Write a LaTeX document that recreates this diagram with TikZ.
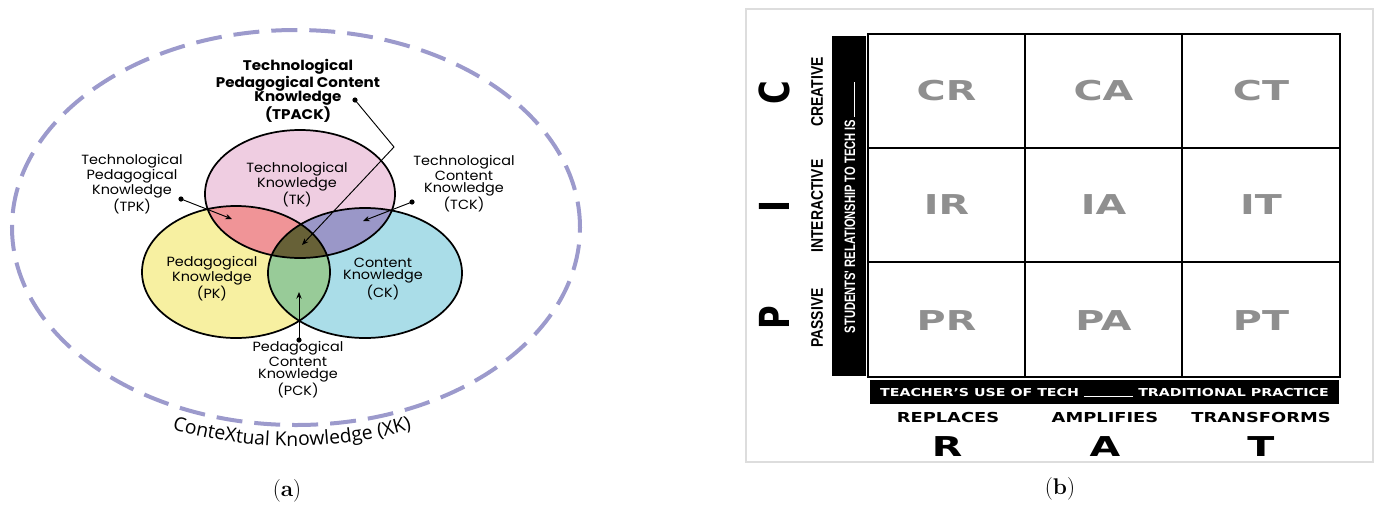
\documentclass[tikz,border=0pt]{standalone}
\usepackage{fontspec}
\usetikzlibrary{arrows.meta,decorations.text}
\newfontfamily\venn{Poppins}[FakeStretch=1.08]
\newfontfamily\xkfont{Open Sans}
\newfontfamily\wideA{DejaVu Sans}[FakeStretch=1.45]
\newfontfamily\wideB{DejaVu Sans}[FakeStretch=1.3]
\newfontfamily\bigL{DejaVu Sans}[FakeStretch=0.78]
\newfontfamily\narrowB{Liberation Sans}[FakeStretch=0.83]
\newfontfamily\narrowS{Liberation Sans}[FakeStretch=0.74]
\definecolor{tkc}{HTML}{EFCDE1}
\definecolor{pkc}{HTML}{F7F0A1}
\definecolor{ckc}{HTML}{AADDE8}
\definecolor{tpc}{HTML}{F09497}
\definecolor{tcc}{HTML}{9A97C8}
\definecolor{pcc}{HTML}{98CB98}
\definecolor{allc}{HTML}{676137}
\definecolor{xkc}{HTML}{9C9ACC}
\definecolor{cellgray}{HTML}{8F8F8F}
\definecolor{panelc}{HTML}{DDDDDD}
\def\TK{(300,-194) ellipse [x radius=95, y radius=64]}
\def\PK{(236,-272) ellipse [x radius=94, y radius=66]}
\def\CK{(365,-273) ellipse [x radius=97, y radius=65]}
\begin{document}
\begin{tikzpicture}[x=0.75pt,y=0.75pt,
  vennlbl/.style={align=center, inner sep=0pt, font={\venn\fontsize{10}{9}\selectfont}},
  tpacklbl/.style={align=center, inner sep=0pt, font={\venn\bfseries\fontsize{10.5}{10.7}\selectfont}},
  ptr/.style={line width=0.7pt, -{Stealth[length=5pt,width=4pt]}},
  dot/.style={fill=black},
  vennline/.style={line width=1.3pt, draw=black},
  gridline/.style={line width=1.2pt, draw=black},
  cell/.style={inner sep=0pt, text=cellgray, font={\wideA\bfseries\fontsize{20.5}{22}\selectfont}},
  pic/.style={rotate=90, inner sep=0pt, font={\bigL\bfseries\fontsize{31}{33}\selectfont}},
  picword/.style={rotate=90, inner sep=0pt, font={\narrowB\bfseries\fontsize{12.6}{14}\selectfont}},
  ratword/.style={inner sep=0pt, font={\wideB\bfseries\fontsize{10.3}{12}\selectfont}},
  ratletter/.style={inner sep=0pt, font={\wideA\bfseries\fontsize{20.5}{22}\selectfont}},
  caption/.style={inner sep=0pt, font={\fontsize{17}{19}\selectfont}}
]
\useasboundingbox (0,0) rectangle (1375,-504);
% ---------------- (a) TPACK ----------------
\draw[xkc, line width=3pt, dash pattern=on 19.5pt off 9pt] (296,-227.5) ellipse [x radius=284, y radius=197.5];
\fill[tkc] \TK;
\fill[pkc] \PK;
\fill[ckc] \CK;
\begin{scope}\clip \TK; \fill[tpc] \PK; \end{scope}
\begin{scope}\clip \TK; \fill[tcc] \CK; \end{scope}
\begin{scope}\clip \PK; \fill[pcc] \CK; \end{scope}
\begin{scope}\clip \TK; \clip \PK; \fill[allc] \CK; \end{scope}
\draw[vennline] \TK;
\draw[vennline] \PK;
\draw[vennline] \CK;

\node[vennlbl] (tk) at (297,-185) {Technological\\Knowledge\\(TK)};
\node[vennlbl] (pk) at (212,-279) {Pedagogical\\Knowledge\\(PK)};
\node[vennlbl] (ck) at (383,-279) {Content\\Knowledge\\(CK)};
\node[vennlbl] (tpk) at (132,-184) {Technological\\Pedagogical\\Knowledge\\(TPK)};
\node[vennlbl] (tck) at (464,-184) {Technological\\Content\\Knowledge\\(TCK)};
\node[vennlbl] (pck) at (298,-370) {Pedagogical\\Content\\Knowledge\\(PCK)};
\node[tpacklbl] (tpack) at (298,-91) {Technological\\Pedagogical Content\\Knowledge\\(TPACK)};

\coordinate (tpkdot) at (181,-199);  \coordinate (tpktip) at (232,-219);
\coordinate (tckdot) at (412,-202);  \coordinate (tcktip) at (363,-221);
\coordinate (pckdot) at (299,-340);  \coordinate (pcktip) at (299,-292);
\coordinate (tpackdot) at (355,-100); \coordinate (tpackbend) at (394,-147); \coordinate (tpacktip) at (302,-245);
\foreach \d in {tpkdot,tckdot,pckdot,tpackdot} \fill[dot] (\d) circle (2.6);
\draw[ptr] (tpkdot) -- (tpktip);
\draw[ptr] (tckdot) -- (tcktip);
\draw[ptr] (pckdot) -- (pcktip);
\draw[ptr] (tpackdot) -- (tpackbend) -- (tpacktip);

\coordinate (xkc0) at (292,-13);
\path[decorate, decoration={text along path, text align=center, text color=black,
  text={|\xkfont\fontsize{14.5}{16}\selectfont|ConteXtual Knowledge (XK)}}]
  (xkc0) ++(246:433) arc [start angle=246, end angle=294, radius=433];

\node[caption] (capa) at (287,-491) {(\textbf{a})};

% ---------------- (b) PICRAT ----------------
\draw[panelc, line width=0.8pt] (746,-9) rectangle (1373,-462);
\fill[black] (832,-36) rectangle (866,-376);
\fill[black] (870,-380) rectangle (1339,-404);
\draw[gridline] (868,-34) rectangle (1340,-377);
\draw[gridline] (1025,-34) -- (1025,-377);
\draw[gridline] (1182,-34) -- (1182,-377);
\draw[gridline] (868,-148) -- (1340,-148);
\draw[gridline] (868,-262) -- (1340,-262);

\node[cell] (cr) at (946.5,-91) {CR};
\node[cell] (ca) at (1103.5,-91) {CA};
\node[cell] (ct) at (1261,-91) {CT};
\node[cell] (ir) at (946.5,-205) {IR};
\node[cell] (ia) at (1103.5,-205) {IA};
\node[cell] (it) at (1261,-205) {IT};
\node[cell] (pr) at (946.5,-321) {PR};
\node[cell] (pa) at (1103.5,-321) {PA};
\node[cell] (pt) at (1261,-321) {PT};

\node[pic] (picc) at (774,-93) {C};
\node[pic] (pici) at (774,-206) {I};
\node[pic] (picp) at (774,-318) {P};
\node[picword] (creative) at (817,-92) {CREATIVE};
\node[picword] (interactive) at (817,-206) {INTERACTIVE};
\node[picword] (passive) at (817,-318) {PASSIVE};
\node[rotate=90, inner sep=0pt, text=white, font={\narrowS\bfseries\fontsize{11.3}{13}\selectfont}] (students) at (850,-207.5) {STUDENTS' RELATIONSHIP TO TECH IS \rule{26pt}{0.8pt}};
\node[inner sep=0pt, text=white, font={\wideB\bfseries\fontsize{8.2}{10}\selectfont}] (teacher) at (1104.5,-393) {TEACHER’S USE OF TECH \rule{37pt}{0.8pt} TRADITIONAL PRACTICE};

\node[ratword] (replaces) at (948,-417) {REPLACES};
\node[ratword] (amplifies) at (1105,-417) {AMPLIFIES};
\node[ratword] (transforms) at (1261,-417) {TRANSFORMS};
\node[ratletter] (ratr) at (947,-447) {R};
\node[ratletter] (rata) at (1105,-447) {A};
\node[ratletter] (ratt) at (1261,-447) {T};

\node[caption] (capb) at (1060,-489) {(\textbf{b})};
\end{tikzpicture}
\end{document}
